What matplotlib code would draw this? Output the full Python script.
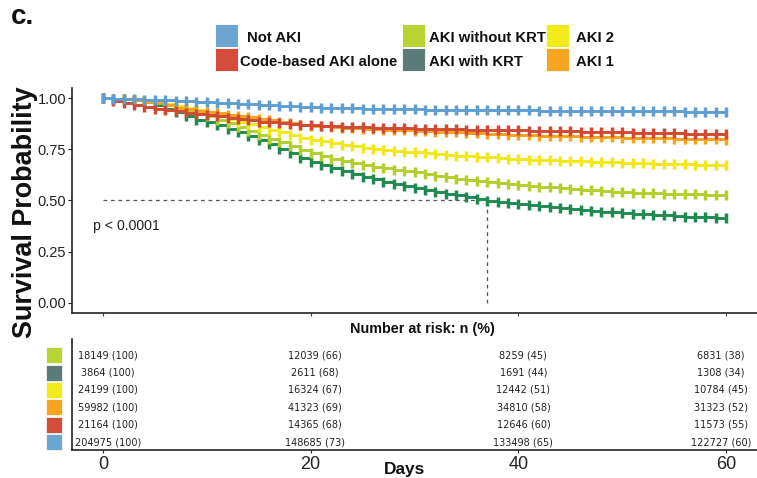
import matplotlib
matplotlib.use("Agg")
import matplotlib.pyplot as plt
import matplotlib.transforms as mtransforms
from matplotlib.patches import Rectangle
import numpy as np

# ---- data ------------------------------------------------------------------
days = np.arange(0, 61)

groups = ["Not AKI", "Code-based AKI alone", "AKI without KRT",
          "AKI with KRT", "AKI 2", "AKI 1"]

surv_not_aki = [
    1.000, 0.999, 0.998, 0.996, 0.994, 0.992, 0.990, 0.988, 0.985, 0.983,
    0.980, 0.978, 0.975, 0.972, 0.970, 0.967, 0.965, 0.962, 0.960, 0.958,
    0.956, 0.955, 0.953, 0.952, 0.951, 0.950, 0.949, 0.948, 0.947, 0.946,
    0.946, 0.945, 0.945, 0.944, 0.944, 0.943, 0.943, 0.942, 0.942, 0.941,
    0.941, 0.941, 0.940, 0.940, 0.940, 0.939, 0.939, 0.939, 0.938, 0.938,
    0.938, 0.937, 0.937, 0.937, 0.936, 0.936, 0.935, 0.935, 0.934, 0.934,
    0.933]
surv_code_based = [
    1.000, 0.985, 0.975, 0.966, 0.957, 0.950, 0.943, 0.936, 0.930, 0.924,
    0.919, 0.913, 0.906, 0.899, 0.892, 0.886, 0.882, 0.878, 0.874, 0.870,
    0.867, 0.865, 0.863, 0.862, 0.860, 0.859, 0.857, 0.856, 0.854, 0.853,
    0.852, 0.851, 0.850, 0.849, 0.848, 0.847, 0.846, 0.845, 0.844, 0.844,
    0.843, 0.842, 0.841, 0.840, 0.839, 0.838, 0.837, 0.836, 0.835, 0.834,
    0.833, 0.832, 0.831, 0.830, 0.829, 0.828, 0.827, 0.826, 0.826, 0.825,
    0.824]
surv_aki1 = [
    1.000, 0.998, 0.995, 0.990, 0.984, 0.975, 0.965, 0.955, 0.947, 0.940,
    0.934, 0.927, 0.920, 0.913, 0.907, 0.901, 0.893, 0.885, 0.877, 0.871,
    0.866, 0.863, 0.860, 0.857, 0.854, 0.852, 0.849, 0.847, 0.845, 0.843,
    0.841, 0.839, 0.837, 0.835, 0.833, 0.831, 0.829, 0.826, 0.824, 0.822,
    0.820, 0.819, 0.818, 0.817, 0.816, 0.815, 0.813, 0.812, 0.810, 0.809,
    0.808, 0.807, 0.806, 0.805, 0.804, 0.803, 0.802, 0.801, 0.800, 0.799,
    0.798]
surv_aki2 = [
    1.000, 0.999, 0.997, 0.993, 0.988, 0.981, 0.973, 0.963, 0.952, 0.942,
    0.930, 0.915, 0.900, 0.886, 0.872, 0.859, 0.846, 0.833, 0.820, 0.808,
    0.797, 0.789, 0.781, 0.773, 0.765, 0.758, 0.753, 0.748, 0.743, 0.739,
    0.735, 0.731, 0.727, 0.723, 0.720, 0.717, 0.714, 0.711, 0.708, 0.705,
    0.702, 0.700, 0.698, 0.696, 0.694, 0.692, 0.691, 0.689, 0.687, 0.686,
    0.684, 0.683, 0.682, 0.681, 0.680, 0.679, 0.677, 0.676, 0.675, 0.674,
    0.673]
surv_no_krt = [
    1.000, 0.999, 0.997, 0.993, 0.987, 0.979, 0.969, 0.957, 0.944, 0.929,
    0.913, 0.896, 0.878, 0.860, 0.841, 0.822, 0.803, 0.784, 0.766, 0.748,
    0.730, 0.717, 0.705, 0.694, 0.683, 0.673, 0.665, 0.658, 0.651, 0.644,
    0.638, 0.630, 0.622, 0.614, 0.607, 0.600, 0.595, 0.590, 0.585, 0.580,
    0.576, 0.572, 0.568, 0.564, 0.560, 0.556, 0.553, 0.549, 0.546, 0.543,
    0.540, 0.538, 0.537, 0.535, 0.534, 0.532, 0.531, 0.530, 0.528, 0.527,
    0.526]
surv_with_krt = [
    1.000, 0.999, 0.996, 0.990, 0.980, 0.966, 0.950, 0.932, 0.912, 0.896,
    0.884, 0.868, 0.852, 0.833, 0.816, 0.798, 0.776, 0.754, 0.731, 0.709,
    0.689, 0.673, 0.658, 0.643, 0.629, 0.616, 0.604, 0.592, 0.580, 0.569,
    0.559, 0.550, 0.542, 0.534, 0.526, 0.519, 0.508, 0.499, 0.493, 0.488,
    0.483, 0.478, 0.472, 0.467, 0.462, 0.457, 0.453, 0.449, 0.445, 0.442,
    0.438, 0.435, 0.432, 0.429, 0.427, 0.424, 0.421, 0.419, 0.417, 0.415,
    0.412]

risk_times = [0, 20, 40, 60]
# rows top -> bottom of the risk table
risk_groups = ["AKI without KRT", "AKI with KRT", "AKI 2", "AKI 1",
               "Code-based AKI alone", "Not AKI"]
risk_n = [
    [18149, 12039, 8259, 6831],
    [3864, 2611, 1691, 1308],
    [24199, 16324, 12442, 10784],
    [59982, 41323, 34810, 31323],
    [21164, 14365, 12646, 11573],
    [204975, 148685, 133498, 122727],
]
risk_pct = [
    [100, 66, 45, 38],
    [100, 68, 44, 34],
    [100, 67, 51, 45],
    [100, 69, 58, 52],
    [100, 68, 60, 55],
    [100, 73, 65, 60],
]

# ---- styles ----------------------------------------------------------------
line_colors = {
    "Not AKI": "#5f9ed3",
    "Code-based AKI alone": "#d04a33",
    "AKI without KRT": "#b3cf2e",
    "AKI with KRT": "#1f8a50",
    "AKI 2": "#f1e81b",
    "AKI 1": "#f7a21c",
}
key_colors = {
    "Not AKI": "#6ba6d1",
    "Code-based AKI alone": "#d24e3a",
    "AKI without KRT": "#b8d433",
    "AKI with KRT": "#5b7c79",
    "AKI 2": "#f3ea1c",
    "AKI 1": "#f7a420",
}
curves = {
    "Not AKI": surv_not_aki,
    "Code-based AKI alone": surv_code_based,
    "AKI without KRT": surv_no_krt,
    "AKI with KRT": surv_with_krt,
    "AKI 2": surv_aki2,
    "AKI 1": surv_aki1,
}
draw_order = ["AKI with KRT", "AKI without KRT", "AKI 2", "AKI 1",
              "Code-based AKI alone", "Not AKI"]

plt.rcParams["font.family"] = ["Liberation Sans", "DejaVu Sans"]

W, H = 757, 478
fig = plt.figure(figsize=(W / 100, H / 100), dpi=100)
renderer = fig.canvas.get_renderer()


def fx(px):
    return px / W


def fy(py):
    return 1 - py / H


def fit_width(txt, target_px):
    """Scale a text's font size so its long side spans target_px pixels."""
    bb = txt.get_window_extent(renderer)
    txt.set_fontsize(txt.get_fontsize() * target_px / max(bb.width, bb.height))
    return txt.get_fontsize()


ink = "#222222"
dark = "#111111"

# ---- survival panel ----------------------------------------------------------
ax = fig.add_axes([fx(71.7), fy(312.9), fx(685.6), (312.9 - 88.1) / H])
for name in draw_order:
    s = curves[name]
    ax.step(days, s, where="post", color=line_colors[name], lw=2.1,
            solid_capstyle="butt", zorder=3)
    ax.plot(days, s, ls="none", marker="|", ms=6.5, mew=2.5,
            color=line_colors[name], zorder=3)

# median survival guide for the group that drops below 0.5
krt = np.asarray(surv_with_krt)
med_day = days[np.argmax(krt <= 0.5)]
ax.plot([0, med_day], [0.5, 0.5], color="#555555", lw=0.9, ls=(0, (3, 3)), zorder=2)
ax.plot([med_day, med_day], [0, 0.5], color="#555555", lw=0.9, ls=(0, (3, 3)), zorder=2)

ptxt = ax.text(-0.99, 0.356, "p < 0.0001", fontsize=12, color=ink,
               va="baseline", ha="left")
fit_width(ptxt, 67)

ax.set_xlim(-3, 63)
ax.set_ylim(-0.05, 1.05)
ax.set_xticks(risk_times)
ax.set_xticklabels([])
ax.set_yticks([0, 0.25, 0.5, 0.75, 1.0])
ax.set_yticklabels(["0.00", "0.25", "0.50", "0.75", "1.00"])
ax.tick_params(axis="y", length=3, width=0.8, pad=1, labelsize=10.5, colors=ink)
ax.tick_params(axis="x", length=2.5, width=0.8, colors="#444444")
for side in ("top", "right"):
    ax.spines[side].set_visible(False)
for side in ("left", "bottom"):
    ax.spines[side].set_linewidth(1.2)
    ax.spines[side].set_color(ink)

ylab = fig.text(fx(25), fy(212), "Survival Probability", rotation=90, fontsize=20,
                fontweight="bold", ha="center", va="center", color=dark)
fit_width(ylab, 251)
ctxt = fig.text(fx(11), fy(24), "c.", fontsize=20, fontweight="bold",
                ha="left", va="baseline", color=dark)
fit_width(ctxt, 26)

# ---- legend key (3 columns x 2 rows) ------------------------------------------
key_cols = [(215, 247, 240), (402, 429, 429), (546, 576, 576)]
key_rows = [24, 48]
key_base = [42, 66]
key_texts = []
for i, name in enumerate(groups):
    col, row = divmod(i, 2)
    sq_x, tx_top, tx_bot = key_cols[col]
    tx = tx_top if row == 0 else tx_bot
    fig.add_artist(Rectangle((fx(sq_x), fy(key_rows[row] + 23)), fx(23), 23 / H,
                             transform=fig.transFigure, facecolor=key_colors[name],
                             edgecolor="white", lw=0.6))
    key_texts.append(fig.text(fx(tx), fy(key_base[row]), name, fontsize=12,
                              fontweight="bold", ha="left", va="baseline", color=dark))
key_size = fit_width(key_texts[1], 157)
for t in key_texts:
    t.set_fontsize(key_size)

# ---- risk table ----------------------------------------------------------------
tab = fig.add_axes([fx(71.7), fy(450), fx(685.6), (450 - 339) / H])
tab.set_xlim(-3, 63)
tab.set_ylim(0.56, 6.92)
row_y = np.arange(len(risk_groups), 0, -1)
col_shift_px = [5, 4, 5, -5]
for c, t in enumerate(risk_times):
    shifted = tab.transData + mtransforms.ScaledTranslation(
        col_shift_px[c] / 100, 0, fig.dpi_scale_trans)
    for r, name in enumerate(risk_groups):
        tab.text(t, row_y[r], f"{risk_n[r][c]} ({risk_pct[r][c]})", fontsize=7,
                 ha="center", va="center", color=ink, family="DejaVu Sans",
                 transform=shifted, clip_on=False)
blend = mtransforms.blended_transform_factory(tab.transAxes, tab.transData)
for r, name in enumerate(risk_groups):
    tab.plot([-0.026], [row_y[r]], marker="s", ms=11, mec="white", mew=0.5,
             color=key_colors[name], transform=blend, clip_on=False)
tab.set_yticks([])
tab.set_xticks(risk_times)
tab.set_xticklabels([str(t) for t in risk_times])
tab.tick_params(axis="x", length=2, width=0.8, pad=2, labelsize=13, colors=ink)
for side in ("top", "right"):
    tab.spines[side].set_visible(False)
for side in ("left", "bottom"):
    tab.spines[side].set_linewidth(1.2)
    tab.spines[side].set_color(ink)

ntxt = fig.text(fx(422), fy(333), "Number at risk: n (%)", fontsize=12,
                fontweight="bold", ha="center", va="baseline", color=dark)
fit_width(ntxt, 144)
dtxt = fig.text(fx(405), fy(474), "Days", fontsize=12, fontweight="bold",
                ha="center", va="baseline", color=dark)
fit_width(dtxt, 41)

fig.savefig("out.png", dpi=100)
